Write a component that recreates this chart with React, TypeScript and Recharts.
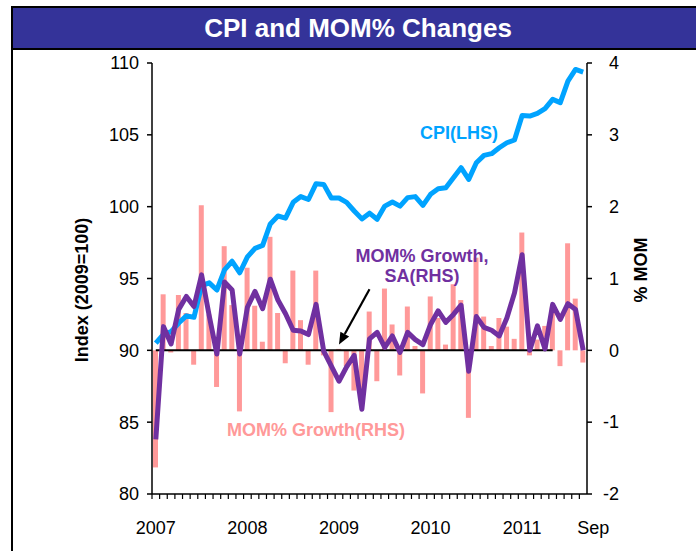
import { Bar, ComposedChart, Line, ReferenceLine, XAxis, YAxis } from 'recharts'

const monthNames = ['Jan', 'Feb', 'Mar', 'Apr', 'May', 'Jun', 'Jul', 'Aug', 'Sep', 'Oct', 'Nov', 'Dec']
const years = [2007, 2008, 2009, 2010, 2011]
// Jan 2007 .. Sep 2011
const months = years.flatMap((y) => monthNames.map((m) => `${m} ${y}`)).slice(0, 57)

const cpiIndex = [
  90.5, 91.1, 91.3, 91.9, 92.4, 92.3, 94.5, 94.7, 94.2, 95.6, 96.2, 95.4,
  96.5, 97.1, 97.3, 98.8, 99.35, 99.2, 100.3, 100.7, 100.5, 101.6, 101.55, 100.6,
  100.6, 100.3, 99.7, 99.15, 99.55, 99.12, 100.04, 100.32, 100.04, 100.63, 100.7, 100.09,
  100.86, 101.25, 101.32, 102.02, 102.71, 101.9, 103.06, 103.57, 103.69, 104.1, 104.45, 104.64,
  106.35, 106.31, 106.49, 106.82, 107.47, 107.24, 108.74, 109.55, 109.37,
]

const momGrowth = [
  -1.63, 0.78, -0.03, 0.77, 0.52, -0.2, 2.02, 0.5, -0.51, 1.45, 0.63, -0.85,
  1.15, 0.62, 0.12, 1.58, 0.52, -0.18, 1.11, 0.42, -0.2, 1.11, -0.07, -0.86,
  0.02, -0.22, -0.56, -0.55, 0.54, -0.43, 0.86, 0.36, -0.35, 0.61, 0.06, -0.6,
  0.75, 0.45, 0.08, 0.92, 0.7, -0.94, 1.29, 0.47, 0.06, 0.45, 0.33, 0.16,
  1.64, -0.07, 0.15, 0.34, 0.6, -0.22, 1.49, 0.72, -0.17,
]

const momGrowthSA = [
  -1.24, 0.33, 0.09, 0.57, 0.75, 0.61, 1.05, 0.48, -0.05, 0.95, 0.84, -0.05,
  0.6, 0.82, 0.58, 0.99, 0.7, 0.51, 0.28, 0.27, 0.22, 0.64, -0.01, -0.22,
  -0.43, -0.23, -0.07, -0.82, 0.16, 0.25, 0.04, 0.2, -0.03, 0.25, 0.15, 0.08,
  0.36, 0.55, 0.39, 0.5, 0.63, -0.29, 0.47, 0.32, 0.28, 0.2, 0.45, 0.8,
  1.33, 0.0, 0.34, 0.02, 0.64, 0.43, 0.65, 0.57, 0.0,
]

// zero line runs through May 2011
const zeroLineEnd = 'May 2011'

const leftTicks = [80, 85, 90, 95, 100, 105, 110]
const rightTicks = [-2, -1, 0, 1, 2, 3, 4]

const font = '"Liberation Sans", Arial, sans-serif'
const blue = '#00A3FF'
const purple = '#7030A0'
const pink = '#FF9999'

const endIdx = months.indexOf(zeroLineEnd)
const data = months.map((label, i) => ({
  label,
  cpi: cpiIndex[i],
  mom: momGrowth[i],
  momSA: momGrowthSA[i],
  zero: i <= endIdx ? 0 : null,
}))

function MonthTick(props: any) {
  const { x, y, payload } = props
  const half = 435 / 57 / 2
  const value: string = payload.value
  let label = ''
  if (value.startsWith('Jan')) label = value.slice(4)
  if (value === months[months.length - 1]) label = value.slice(0, 3)
  return (
    <g>
      <line x1={x - half} y1={y} x2={x - half} y2={y + 5} stroke="#000" strokeWidth={1.2} />
      {label ? (
        <text x={label === 'Sep' ? x + 10 : x} y={y + 40} textAnchor="middle" fontSize={18} fill="#000" fontFamily={font}>
          {label}
        </text>
      ) : null}
    </g>
  )
}

function RightTick(props: any) {
  const { x, y, payload } = props
  return (
    <text x={x + 27} y={y} dy="0.35em" textAnchor="end" fontSize={18} fill="#000" fontFamily={font}>
      {payload.value}
    </text>
  )
}

function ArrowShape(props: any) {
  const { x1, y1, x2, y2 } = props
  if (x1 == null || x2 == null) return null
  const ang = Math.atan2(y2 - y1, x2 - x1)
  const len = 12
  const w = 5
  const bx = x2 - len * Math.cos(ang)
  const by = y2 - len * Math.sin(ang)
  const px = -Math.sin(ang) * w
  const py = Math.cos(ang) * w
  return (
    <g>
      <line x1={x1} y1={y1} x2={bx} y2={by} stroke="#000" strokeWidth={2.2} />
      <polygon points={`${x2},${y2} ${bx + px},${by + py} ${bx - px},${by - py}`} fill="#000" />
    </g>
  )
}

const noteStyle = { position: 'absolute' as const, fontFamily: font, fontWeight: 700, fontSize: 18, whiteSpace: 'nowrap' as const, lineHeight: '20px' }

export default function App() {
  return (
    <div style={{ position: 'fixed', left: 0, top: 0, width: 696, height: 551, background: '#fff', overflow: 'hidden', fontFamily: font }}>
      <div style={{ position: 'absolute', left: 11, top: 6, width: 720, height: 600, borderLeft: '2px solid #000', borderTop: '2px solid #000' }} />
      <div style={{ position: 'absolute', left: 13, top: 8, width: 690, height: 40, background: '#343399', borderBottom: '2px solid #000', color: '#fff', fontWeight: 700, fontSize: 26, lineHeight: '40px', textAlign: 'center' }}>
        CPI and MOM% Changes
      </div>

      <div style={{ position: 'absolute', left: 0, top: 0 }}>
        <ComposedChart width={696} height={551} data={data} margin={{ top: 63, right: 49, bottom: 27, left: 92 }}>
          <XAxis
            dataKey="label"
            interval={0}
            tickLine={false}
            tickSize={0}
            tickMargin={0}
            height={30}
            axisLine={{ stroke: '#000', strokeWidth: 1.5 }}
            tick={<MonthTick />}
          />
          <YAxis
            yAxisId="left"
            domain={[80, 110]}
            ticks={leftTicks}
            width={60}
            tickSize={5}
            tickMargin={8}
            axisLine={{ stroke: '#000', strokeWidth: 1.5 }}
            tickLine={{ stroke: '#000', strokeWidth: 1.5 }}
            tick={{ fill: '#000', fontSize: 18, fontFamily: font }}
          />
          <YAxis
            yAxisId="right"
            orientation="right"
            domain={[-2, 4]}
            ticks={rightTicks}
            width={60}
            tickSize={5}
            tickMargin={0}
            axisLine={{ stroke: '#000', strokeWidth: 1.5 }}
            tickLine={{ stroke: '#000', strokeWidth: 1.5 }}
            tick={<RightTick />}
          />
          <Bar yAxisId="right" dataKey="mom" fill={pink} barSize={5} isAnimationActive={false} />
          <Line yAxisId="right" dataKey="zero" stroke="#000" strokeWidth={2} dot={false} isAnimationActive={false} connectNulls={false} />
          <Line yAxisId="left" dataKey="cpi" stroke={blue} strokeWidth={5} strokeLinejoin="round" dot={false} isAnimationActive={false} />
          <Line yAxisId="right" dataKey="momSA" stroke={purple} strokeWidth={5} strokeLinejoin="round" dot={false} isAnimationActive={false} />
          <ReferenceLine
            yAxisId="right"
            segment={[{ x: months[28], y: 0.85 }, { x: months[24], y: 0.08 }]}
            shape={<ArrowShape />}
          />
        </ComposedChart>
      </div>

      <div style={{ ...noteStyle, left: 420, top: 123, color: blue }}>CPI(LHS)</div>
      <div style={{ ...noteStyle, left: 322, top: 246, width: 200, textAlign: 'center', color: purple }}>
        MOM% Growth,
        <br />
        SA(RHS)
      </div>
      <div style={{ ...noteStyle, left: 227, top: 420, color: pink }}>MOM% Growth(RHS)</div>

      <div style={{ ...noteStyle, left: 82, top: 290, transform: 'translate(-50%, -50%) rotate(-90deg)' }}>Index (2009=100)</div>
      <div style={{ ...noteStyle, left: 641, top: 270, transform: 'translate(-50%, -50%) rotate(-90deg)' }}>% MOM</div>
    </div>
  )
}
